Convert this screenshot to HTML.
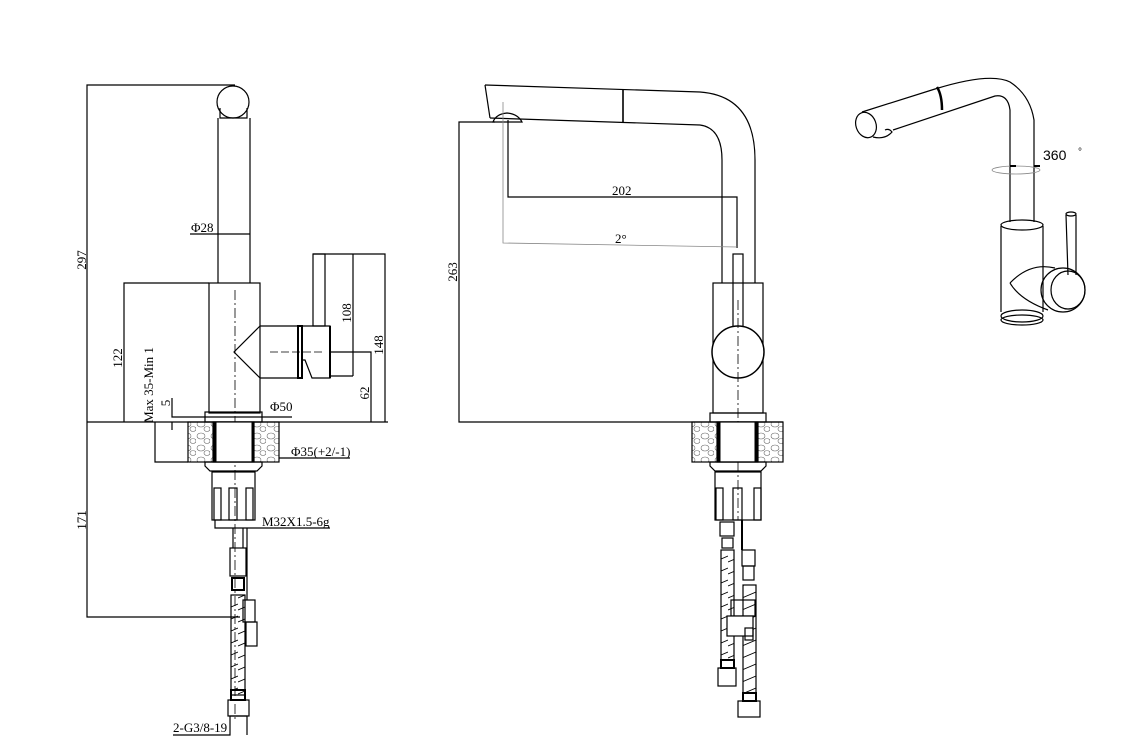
<!DOCTYPE html>
<html><head><meta charset="utf-8"><style>
html,body{margin:0;padding:0;background:#fff;}
svg{display:block}
text{font-family:"Liberation Serif",serif;font-size:13px;fill:#000}
</style></head><body>
<svg width="1132" height="747" viewBox="0 0 1132 747" xmlns="http://www.w3.org/2000/svg">
<defs>
<pattern id="st" width="14" height="12" patternUnits="userSpaceOnUse">
<ellipse cx="5" cy="4" rx="4" ry="3" fill="none" stroke="#666" stroke-width="0.6"/>
<ellipse cx="11" cy="9" rx="3" ry="2.5" fill="none" stroke="#666" stroke-width="0.6"/>
</pattern>
<pattern id="hz" width="14" height="12" patternUnits="userSpaceOnUse">
<line x1="0" y1="10" x2="14" y2="4" stroke="#000" stroke-width="0.9"/>
</pattern>
</defs>
<g fill="none" stroke="#000" stroke-width="1.2">
<!-- LEFT VIEW -->
<polyline points="235,85 87,85 87,617 240,617"/>
<circle cx="233" cy="102" r="16"/>
<path d="M220,108 L220,118 L247,118 L247,108"/>
<line x1="218" y1="118" x2="218" y2="283"/><line x1="250" y1="118" x2="250" y2="283"/>
<line x1="190" y1="234" x2="250" y2="234"/>
<polyline points="209,283 124,283 124,422"/>
<rect x="209" y="283" width="51" height="130"/>
<line x1="87" y1="422" x2="388" y2="422"/>
<line x1="235" y1="290" x2="235" y2="720" stroke-dasharray="10,3,2,3" stroke-width="0.8"/>
<polyline points="260,326 234,352 260,378"/>
<line x1="260" y1="326" x2="298" y2="326"/><line x1="260" y1="378" x2="298" y2="378"/>
<rect x="298" y="326" width="4" height="52" stroke-width="2"/>
<polygon points="302,326 330,326 330,378 312,378 305,360 302,360"/>
<line x1="330" y1="326" x2="330" y2="378" stroke-width="2"/>
<rect x="313" y="254" width="12" height="72"/>
<line x1="330" y1="376" x2="353" y2="376"/><line x1="353" y1="254" x2="353" y2="376"/>
<polyline points="313,254 385,254 385,422"/>
<polyline points="330,352 371,352 371,422"/>
<line x1="270" y1="352" x2="322" y2="352" stroke-dasharray="8,3" stroke-width="0.8"/>
<rect x="205" y="412" width="57" height="10"/>
<polyline points="292,417 172,417 172,398"/>
<line x1="172" y1="430" x2="172" y2="422"/>
<polyline points="155,422 155,462 188,462"/>
<rect x="188" y="422" width="91" height="40" fill="url(#st)"/>
<rect x="213" y="422" width="41" height="40" fill="#fff"/>
<line x1="215" y1="422" x2="215" y2="462" stroke-width="3"/><line x1="253" y1="422" x2="253" y2="462" stroke-width="3"/>
<polyline points="279,458 350,458"/>
<path d="M205,462 h57 v4 l-5,5 h-47 l-5,-5z"/>
<rect x="212" y="472" width="43" height="48"/>
<rect x="214" y="488" width="7" height="32"/><rect x="229" y="488" width="8" height="32"/><rect x="246" y="488" width="7" height="32"/>
<polyline points="215,520 215,528 330,528"/>
<line x1="233" y1="528" x2="233" y2="548"/><line x1="243" y1="528" x2="243" y2="548"/><line x1="247" y1="528" x2="247" y2="600"/>
<rect x="230" y="548" width="16" height="28"/>
<rect x="232" y="578" width="12" height="12" stroke-width="2"/>
<rect x="231" y="595" width="14" height="100" fill="url(#hz)"/>
<rect x="243" y="600" width="12" height="22"/><rect x="246" y="622" width="11" height="24"/>
<rect x="231" y="690" width="14" height="10" stroke-width="2"/>
<rect x="228" y="700" width="21" height="16"/>
<polyline points="173,735 230,735 230,716 247,716 247,735"/>
<!-- MIDDLE VIEW -->
<path d="M485,85 L700,92 Q755,96 755,160 L755,283"/>
<path d="M490,118 L700,125 Q722,128 722,160 L722,283"/>
<line x1="485" y1="85" x2="490" y2="118"/>
<line x1="623" y1="89" x2="623" y2="122" stroke-width="1.6"/>
<path d="M493,122 Q496,114 507,113 Q518,114 522,122 Z"/>
<polyline points="495,122 459,122 459,422 783,422"/>
<polyline points="508,120 508,197 737,197 737,248"/>
<polyline points="503,102 503,243 737,247" stroke="#888" stroke-width="0.8"/>
<rect x="713" y="283" width="50" height="130"/>
<rect x="733" y="254" width="10" height="76"/>
<circle cx="738" cy="352" r="26" fill="#fff" stroke-width="1.5"/>
<line x1="738" y1="300" x2="738" y2="520" stroke-dasharray="10,3,2,3" stroke-width="0.8"/>
<rect x="710" y="413" width="56" height="9"/>
<rect x="692" y="422" width="91" height="40" fill="url(#st)"/>
<rect x="717" y="422" width="41" height="40" fill="#fff"/>
<line x1="719" y1="422" x2="719" y2="462" stroke-width="3"/><line x1="756" y1="422" x2="756" y2="462" stroke-width="3"/>
<path d="M710,462 h56 v4 l-5,5 h-46 l-5,-5z"/>
<rect x="715" y="472" width="46" height="48"/>
<rect x="716" y="488" width="7" height="32"/><rect x="733" y="488" width="9" height="32"/><rect x="754" y="488" width="7" height="32"/>
<rect x="720" y="522" width="14" height="14"/><rect x="722" y="538" width="11" height="10"/>
<rect x="721" y="550" width="13" height="110" fill="url(#hz)"/>
<line x1="742" y1="520" x2="742" y2="550" stroke-width="2"/>
<rect x="742" y="550" width="13" height="16"/><rect x="743" y="566" width="11" height="14"/>
<rect x="743" y="585" width="13" height="108" fill="url(#hz)"/>
<rect x="731" y="600" width="24" height="16"/><rect x="727" y="616" width="26" height="20" fill="#fff"/>
<rect x="745" y="628" width="8" height="12"/>
<rect x="721" y="660" width="13" height="8" stroke-width="2"/>
<rect x="718" y="668" width="18" height="18"/>
<rect x="743" y="693" width="13" height="8" stroke-width="2"/>
<rect x="738" y="701" width="22" height="16"/>
<!-- RIGHT 3D VIEW -->
<ellipse cx="866" cy="125" rx="10" ry="13" transform="rotate(-20 866 125)"/>
<path d="M862,112 L935,89 Q990,72 1010,82 Q1030,95 1034,120 L1034,222"/>
<path d="M893,130 L995,96 Q1008,94 1010,110 L1010,222"/>
<path d="M873,137 Q885,140 892,132 Q889,128 885,130"/>
<path d="M937,87 Q942,95 942,110" stroke-width="2.5"/>
<ellipse cx="1016" cy="170" rx="24" ry="4" stroke="#888" stroke-width="0.8"/>
<line x1="1010" y1="166" x2="1016" y2="166" stroke-width="2"/><line x1="1034" y1="166" x2="1040" y2="166" stroke-width="2"/>
<path d="M1001,226 L1001,312 M1043,226 L1043,312"/>
<ellipse cx="1022" cy="225" rx="21" ry="5"/>
<ellipse cx="1022" cy="316" rx="21" ry="6"/>
<ellipse cx="1022" cy="320" rx="21" ry="5"/>
<path d="M1066,215 L1068,275 M1076,215 L1076,275"/>
<ellipse cx="1071" cy="214" rx="5" ry="2"/>
<path d="M1010,283 Q1030,262 1055,268 M1010,283 Q1020,300 1048,310"/>
<ellipse cx="1063" cy="290" rx="22" ry="22"/>
<ellipse cx="1068" cy="290" rx="17" ry="19"/>
</g>
<text x="191" y="232">Φ28</text>
<text transform="translate(86,260) rotate(-90)" text-anchor="middle">297</text>
<text transform="translate(122,358) rotate(-90)" text-anchor="middle">122</text>
<text transform="translate(153,385) rotate(-90)" text-anchor="middle">Max 35-Min 1</text>
<text transform="translate(170,403) rotate(-90)" text-anchor="middle">5</text>
<text transform="translate(86,520) rotate(-90)" text-anchor="middle">171</text>
<text transform="translate(351,313) rotate(-90)" text-anchor="middle">108</text>
<text transform="translate(383,345) rotate(-90)" text-anchor="middle">148</text>
<text transform="translate(369,393) rotate(-90)" text-anchor="middle">62</text>
<text x="270" y="411">Φ50</text>
<text x="291" y="456">Φ35(+2/-1)</text>
<text x="262" y="526">M32X1.5-6g</text>
<text x="173" y="732">2-G3/8-19</text>
<text transform="translate(457,272) rotate(-90)" text-anchor="middle">263</text>
<text x="612" y="195">202</text>
<text x="615" y="243">2°</text>
<text x="1043" y="160" style="font-family:'Liberation Sans',sans-serif;font-size:14px">360</text>
<text x="1078" y="155" style="font-family:'Liberation Sans',sans-serif;font-size:10px">°</text>
</svg>
</body></html>
